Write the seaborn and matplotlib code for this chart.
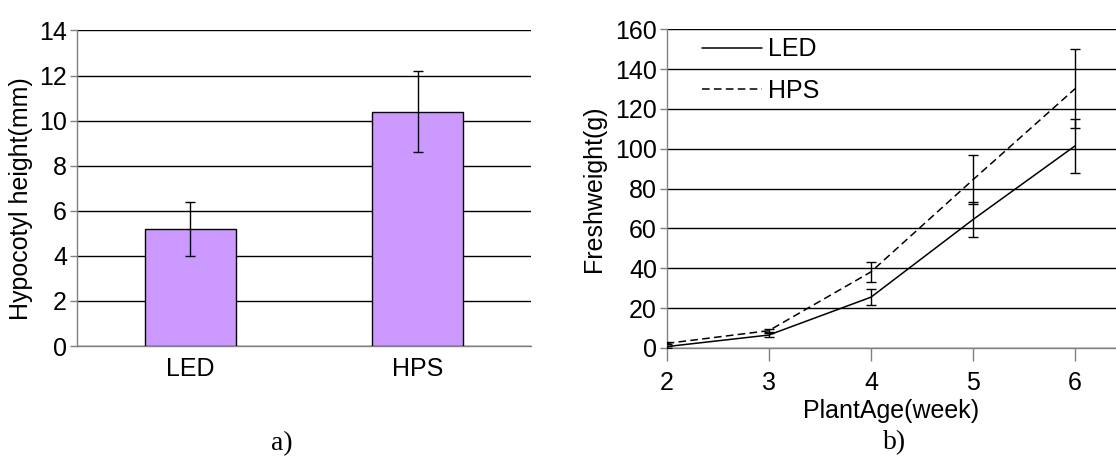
import matplotlib
matplotlib.use("Agg")
import matplotlib.pyplot as plt
import seaborn as sns
import pandas as pd
import numpy as np

# ---- data ----
lamps = ["LED", "HPS"]
hypocotyl_mean = [5.2, 10.4]
hypocotyl_err = [1.2, 1.8]

weeks = [2, 3, 4, 5, 6]
led_weight = [0.7, 6.5, 25.5, 64.5, 101.5]
led_err = [0.5, 1.0, 3.9, 9.0, 13.5]
hps_weight = [2.3, 8.7, 38.2, 84.5, 130.2]
hps_err = [0.5, 0.8, 5.0, 12.2, 19.8]

sns.set_theme(style="white")
plt.rcParams['font.family'] = ['Liberation Sans', 'DejaVu Sans']
plt.rcParams['text.color'] = 'black'
plt.rcParams['axes.labelcolor'] = 'black'
plt.rcParams['xtick.color'] = 'black'
plt.rcParams['ytick.color'] = 'black'

fig = plt.figure(figsize=(11.16, 4.58), dpi=100)
ax1 = fig.add_axes([0.0688, 0.2445, 0.4074, 0.689])
ax2 = fig.add_axes([0.5974, 0.2402, 0.4026, 0.6958])

FS = 18
GRID = "#000000"
SPINE = "#808080"

# ---- panel a ----
df_a = pd.DataFrame({"lamp": lamps, "height": hypocotyl_mean})
sns.barplot(data=df_a, x="lamp", y="height", ax=ax1, color="#CC99FF",
            width=0.4, edgecolor="#000000", linewidth=1.0, errorbar=None,
            saturation=1, zorder=3)
ax1.errorbar(np.arange(len(lamps)), hypocotyl_mean, yerr=hypocotyl_err,
             fmt="none", ecolor="black", elinewidth=1.0, capsize=3.3,
             capthick=1.0, zorder=4)
ax1.set_xlim(-0.5, 1.5)
ax1.set_ylim(0, 14)
ax1.set_yticks(range(0, 15, 2))
ax1.yaxis.grid(True, color=GRID, linewidth=1.0, zorder=0)
ax1.set_axisbelow(True)
ax1.set_xticks([0, 1])
ax1.set_xticklabels(lamps)
ax1.set_xticks([-0.5, 0.5, 1.5], minor=True)
ax1.tick_params(axis="x", which="major", length=0, pad=8, labelsize=FS)
ax1.tick_params(axis="x", which="minor", length=9, width=1, color=SPINE, direction="out")
ax1.tick_params(axis="y", length=5, width=1, color=SPINE, labelcolor="black",
                direction="out", labelsize=FS, pad=2, left=True)
ax1.set_xlabel("")
ax1.set_ylabel("Hypocotyl height(mm)", fontsize=FS)
ax1.yaxis.set_label_coords(-0.0963, 0.466)
for s in ["top", "right"]:
    ax1.spines[s].set_visible(False)
for s in ["left", "bottom"]:
    ax1.spines[s].set_color(SPINE)
    ax1.spines[s].set_linewidth(1.0)

# ---- panel b ----
df_b = pd.DataFrame({
    "week": weeks * 2,
    "weight": led_weight + hps_weight,
    "lamp": ["LED"] * len(weeks) + ["HPS"] * len(weeks),
})
sns.lineplot(data=df_b, x="week", y="weight", style="lamp", ax=ax2,
             color="black", linewidth=1.1,
             dashes={"LED": "", "HPS": (5, 2.8)}, errorbar=None, zorder=3)
ax2.errorbar(weeks, led_weight, yerr=led_err, fmt="none", ecolor="black",
             elinewidth=1.0, capsize=3.3, capthick=1.0, zorder=4)
ax2.errorbar(weeks, hps_weight, yerr=hps_err, fmt="none", ecolor="black",
             elinewidth=1.0, capsize=3.3, capthick=1.0, zorder=4)
ax2.set_xlim(2, 6.4)
ax2.set_ylim(0, 160)
ax2.set_yticks(range(0, 161, 20))
ax2.set_xticks(weeks)
ax2.yaxis.grid(True, color=GRID, linewidth=1.0, zorder=0)
ax2.set_axisbelow(True)
ax2.tick_params(axis="x", length=9, width=1, color=SPINE, labelcolor="black",
                direction="out", labelsize=FS, pad=7.5, bottom=True)
ax2.tick_params(axis="y", length=5, width=1, color=SPINE, labelcolor="black",
                direction="out", labelsize=FS, pad=2, left=True)
ax2.set_xlabel("PlantAge(week)", fontsize=FS, labelpad=3)
ax2.set_ylabel("Freshweight(g)", fontsize=FS)
ax2.yaxis.set_label_coords(-0.135, 0.5)
for s in ["top", "right"]:
    ax2.spines[s].set_visible(False)
for s in ["left", "bottom"]:
    ax2.spines[s].set_color(SPINE)
    ax2.spines[s].set_linewidth(1.0)
leg = ax2.legend(loc="upper left", bbox_to_anchor=(0.078, 0.975), frameon=False,
                 fontsize=FS, handlelength=2.4, handletextpad=0.24,
                 labelspacing=0.7, borderaxespad=0, borderpad=0, title=None)
leg.set_zorder(5)

# ---- captions ----
fig.text(282 / 1116, 1 - 444 / 458, "a)", fontsize=20,
         family=["Liberation Serif", "DejaVu Serif"], ha="center", va="center")
fig.text(895 / 1116, 1 - 443 / 458, "b)", fontsize=20,
         family=["Liberation Serif", "DejaVu Serif"], ha="center", va="center")

fig.savefig("out.png", dpi=100)
